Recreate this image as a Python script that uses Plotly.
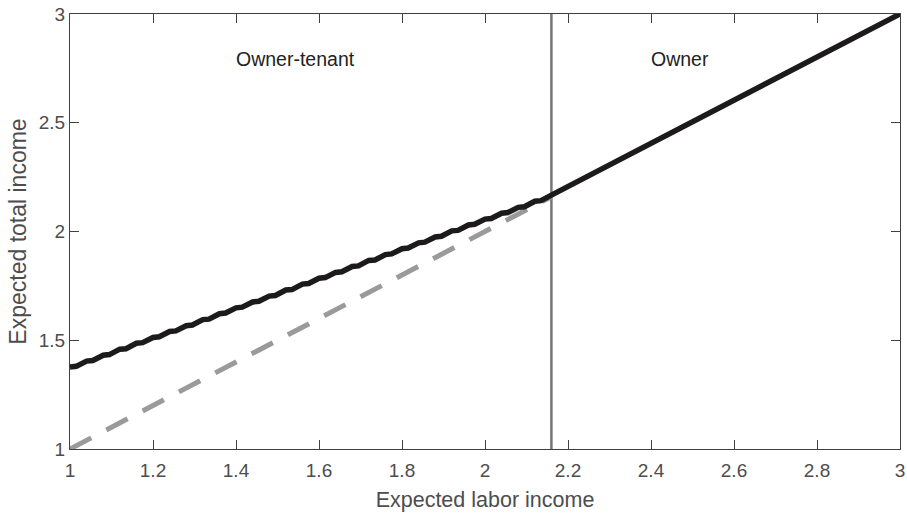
import plotly.graph_objects as go

# Owner-tenant region (stair-stepped) then owner region (straight)
total_x = [1.000, 1.015, 1.040, 1.055, 1.080, 1.095, 1.120, 1.135, 1.160, 1.175,
           1.200, 1.215, 1.240, 1.255, 1.280, 1.295, 1.320, 1.335, 1.360, 1.375,
           1.400, 1.415, 1.440, 1.455, 1.480, 1.495, 1.520, 1.535, 1.560, 1.575,
           1.600, 1.615, 1.640, 1.655, 1.680, 1.695, 1.720, 1.735, 1.760, 1.775,
           1.800, 1.815, 1.840, 1.855, 1.880, 1.895, 1.920, 1.935, 1.960, 1.975,
           2.000, 2.015, 2.040, 2.055, 2.080, 2.095, 2.120, 2.135, 2.160, 3.000]
total_y = [1.377, 1.380, 1.404, 1.407, 1.431, 1.434, 1.459, 1.461, 1.486, 1.489,
           1.513, 1.516, 1.540, 1.543, 1.567, 1.570, 1.595, 1.597, 1.622, 1.625,
           1.649, 1.652, 1.676, 1.679, 1.703, 1.706, 1.731, 1.733, 1.758, 1.761,
           1.785, 1.788, 1.812, 1.815, 1.839, 1.842, 1.867, 1.869, 1.894, 1.897,
           1.921, 1.924, 1.948, 1.951, 1.975, 1.978, 2.003, 2.005, 2.030, 2.033,
           2.057, 2.060, 2.084, 2.087, 2.111, 2.114, 2.139, 2.142, 2.167, 3.000]

labor_x = [1.0, 2.16]
labor_y = [1.0, 2.16]

threshold = 2.16
region_labels = ["Owner-tenant", "Owner"]
region_x = [1.543, 2.471]
region_y = [2.795, 2.795]

x_ticks = [1, 1.2, 1.4, 1.6, 1.8, 2, 2.2, 2.4, 2.6, 2.8, 3]
x_tick_text = ["1", "1.2", "1.4", "1.6", "1.8", "2", "2.2", "2.4", "2.6", "2.8", "3"]
y_ticks = [1, 1.5, 2, 2.5, 3]
y_tick_text = ["1", "1.5", "2", "2.5", "3"]

fig = go.Figure()
fig.add_trace(go.Scatter(x=[threshold, threshold], y=[1, 3], mode="lines",
                         line=dict(color="#767676", width=2.5), showlegend=False,
                         hoverinfo="skip"))
fig.add_trace(go.Scatter(x=labor_x, y=labor_y, mode="lines",
                         line=dict(color="#9a9a9a", width=5, dash="24px,17px"),
                         showlegend=False))
fig.add_trace(go.Scatter(x=total_x, y=total_y, mode="lines",
                         line=dict(color="#1c1a1a", width=5.5), showlegend=False))

for t, x, y in zip(region_labels, region_x, region_y):
    fig.add_annotation(x=x, y=y, text=t, showarrow=False,
                       font=dict(size=19.5, color="#222222"))

axis_common = dict(showline=True, linecolor="#404040", linewidth=1.2, mirror="ticks",
                   ticks="inside", ticklen=9, tickcolor="#404040", tickwidth=1,
                   showgrid=False, zeroline=False, automargin=False,
                   tickfont=dict(size=19, color="#4d4d4d"))

fig.update_xaxes(range=[1, 3], tickvals=x_ticks, ticktext=x_tick_text,
                 ticklabelstandoff=4,
                 title=dict(text="Expected labor income", font=dict(size=21.5, color="#4d4d4d"),
                            standoff=12), **axis_common)
fig.update_yaxes(range=[1, 3], tickvals=y_ticks, ticktext=y_tick_text,
                 title=dict(text="Expected total income", font=dict(size=23, color="#4d4d4d"),
                            standoff=5), **axis_common)

fig.update_layout(width=907, height=513, margin=dict(l=69.5, r=7, t=13.5, b=64),
                  plot_bgcolor="white", paper_bgcolor="white",
                  font=dict(family="Liberation Sans, Arial, sans-serif"))

post = ("document.body.style.margin='0';"
        "document.body.style.overflow='hidden';"
        "document.documentElement.style.overflow='hidden';")
fig.write_html("out.html", post_script=post, config={"displayModeBar": False})
